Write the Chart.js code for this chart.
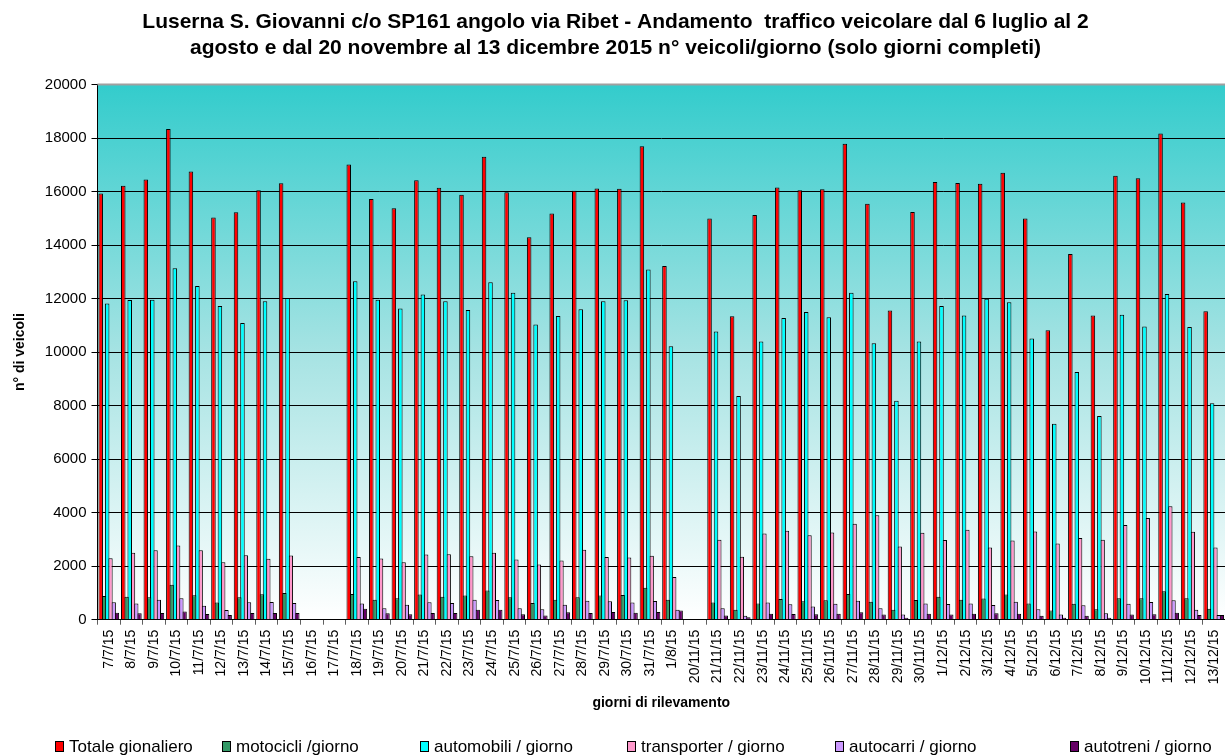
<!DOCTYPE html>
<html>
<head>
<meta charset="utf-8">
<script src="https://cdn.jsdelivr.net/npm/chart.js@4/dist/chart.umd.min.js"></script>
<style>
  html, body { margin: 0; padding: 0; background: #fff; }
  #wrap { width: 1225px; height: 756px; }
</style>
</head>
<body>
<div id="wrap"><canvas id="chart" width="1225" height="756"></canvas></div>
<script>
// giorni di rilevamento (16/7, 17/7 e 20/11 senza dati completi)
const days = [
  "7/7/15", "8/7/15", "9/7/15", "10/7/15", "11/7/15", "12/7/15", "13/7/15", "14/7/15", "15/7/15",
  "16/7/15", "17/7/15", "18/7/15", "19/7/15", "20/7/15", "21/7/15", "22/7/15", "23/7/15", "24/7/15",
  "25/7/15", "26/7/15", "27/7/15", "28/7/15", "29/7/15", "30/7/15", "31/7/15", "1/8/15",
  "20/11/15", "21/11/15", "22/11/15", "23/11/15", "24/11/15", "25/11/15", "26/11/15", "27/11/15",
  "28/11/15", "29/11/15", "30/11/15", "1/12/15", "2/12/15", "3/12/15", "4/12/15", "5/12/15",
  "6/12/15", "7/12/15", "8/12/15", "9/12/15", "10/12/15", "11/12/15", "12/12/15", "13/12/15"
];

const totale = [
  15930, 16220, 16450, 18340, 16750, 15030, 15230, 16050, 16310, null, null, 17010, 15720, 15380,
  16420, 16140, 15880, 17300, 15970, 14290, 15180, 16030, 16110, 16100, 17690, 13220,
  null, 14990, 11340, 15120, 16150, 16050, 16090, 17790, 15540, 11550, 15240,
  16360, 16320, 16290, 16700, 14990, 10820, 13670, 11370, 16590, 16500, 18170, 15590, 11530
];

const motocicli = [
  890, 860, 840, 1310, 910, 640, 840, 950, 1000, null, null, 960, 750, 800,
  940, 860, 900, 1090, 840, 625, 750, 840, 900, 925, 1190, 750,
  null, 640, 375, 610, 775, 690, 725, 960, 675, 375, 740,
  860, 750, 790, 940, 610, 340, 600, 390, 800, 800, 1060, 800, 410
];

const automobili = [
  11820, 11950, 11960, 13130, 12470, 11720, 11090, 11900, 12020, null, null, 12650, 11960, 11630,
  12150, 11900, 11570, 12610, 12220, 11030, 11350, 11600, 11900, 11940, 13090, 10220,
  null, 10770, 8360, 10400, 11270, 11500, 11300, 12220, 10330, 8180, 10400,
  11720, 11370, 11990, 11860, 10510, 7320, 9260, 7610, 11400, 10960, 12170, 10940, 8090
];

const transporter = [
  2300, 2500, 2600, 2775, 2600, 2150, 2410, 2275, 2400, null, null, 2340, 2290, 2150,
  2440, 2450, 2375, 2500, 2250, 2060, 2210, 2610, 2340, 2325, 2390, 1600,
  null, 2990, 2350, 3225, 3325, 3160, 3260, 3590, 3900, 2740, 3250,
  2975, 3360, 2700, 2960, 3300, 2850, 3050, 2990, 3540, 3800, 4240, 3290, 2700
];

const autocarri = [
  650, 610, 750, 800, 525, 360, 650, 660, 625, null, null, 610, 425, 560,
  650, 625, 750, 740, 425, 390, 560, 710, 690, 640, 700, 375,
  null, 425, 150, 640, 575, 490, 600, 710, 425, 190, 610,
  590, 610, 550, 675, 390, 190, 540, 240, 600, 660, 725, 375, 175
];

const autotreni = [
  260, 240, 250, 310, 210, 175, 250, 250, 250, null, null, 410, 240, 200,
  250, 250, 375, 375, 200, 160, 275, 250, 290, 260, 290, 340,
  null, 160, 90, 225, 210, 200, 225, 275, 190, 75, 225,
  190, 225, 240, 225, 150, 75, 150, 75, 190, 200, 260, 175, 180
];

const yTicks = [0, 2000, 4000, 6000, 8000, 10000, 12000, 14000, 16000, 18000, 20000];

const FONT = "Arial, 'Liberation Sans', sans-serif";

// where each legend entry starts (x of the little box) and its row
const LEGEND_X = [55, 222, 420, 627, 835, 1070];
const LEGEND_Y = 746;

// teal-to-white background of the plot area, plus the grey frame on top
const plotBackground = {
  id: "plotBackground",
  beforeDraw(chart) {
    const { ctx, chartArea: a } = chart;
    const g = ctx.createLinearGradient(0, a.top, 0, a.bottom);
    g.addColorStop(0, "#33CCCC");
    g.addColorStop(0.5, "#A6E3E3");
    g.addColorStop(1, "#FFFFFF");
    ctx.save();
    ctx.fillStyle = g;
    ctx.fillRect(a.left, a.top, a.right - a.left, a.bottom - a.top);
    ctx.restore();
  },
  afterDatasetsDraw(chart) {
    const { ctx, chartArea: a } = chart;
    ctx.save();
    ctx.strokeStyle = "#A0A0A0";
    ctx.lineWidth = 2;
    ctx.beginPath();
    ctx.moveTo(a.left, a.top);
    ctx.lineTo(a.right, a.top);
    ctx.stroke();
    ctx.restore();
  }
};

// Excel-like legend row, spread across the bottom of the page
const bottomLegend = {
  id: "bottomLegend",
  afterDraw(chart) {
    const ctx = chart.ctx;
    ctx.save();
    ctx.font = "17px " + FONT;
    ctx.textBaseline = "middle";
    ctx.textAlign = "left";
    chart.data.datasets.forEach((ds, i) => {
      const x = LEGEND_X[i];
      ctx.fillStyle = ds.backgroundColor;
      ctx.fillRect(x, LEGEND_Y - 5, 9, 11);
      ctx.strokeStyle = "#000";
      ctx.lineWidth = 1;
      ctx.strokeRect(x + 0.5, LEGEND_Y - 4.5, 8, 10);
      ctx.fillStyle = "#000";
      ctx.fillText(ds.label, x + 14, LEGEND_Y + 1);
    });
    ctx.restore();
  }
};

// bars slightly wider than their slot, so neighbours overlap a little like in Excel
function makeSet(label, data, color) {
  return {
    label: label,
    data: data,
    backgroundColor: color,
    borderColor: "#000000",
    borderWidth: 1,
    categoryPercentage: 0.86,
    barPercentage: 1.4
  };
}

document.addEventListener("DOMContentLoaded", function () {
  const ctx = document.getElementById("chart").getContext("2d");

  new Chart(ctx, {
    type: "bar",
    data: {
      labels: days,
      datasets: [
        makeSet("Totale gionaliero", totale, "#FF0000"),
        makeSet("motocicli /giorno", motocicli, "#339966"),
        makeSet("automobili / giorno", automobili, "#00FFFF"),
        makeSet("transporter / giorno", transporter, "#FF99CC"),
        makeSet("autocarri / giorno", autocarri, "#CC99FF"),
        makeSet("autotreni / giorno", autotreni, "#660066")
      ]
    },
    options: {
      responsive: false,
      animation: false,
      layout: { padding: { left: 6, right: 0, top: 0, bottom: 40 } },
      plugins: {
        title: {
          display: true,
          text: [
            "Luserna S. Giovanni c/o SP161 angolo via Ribet - Andamento  traffico veicolare dal 6 luglio al 2",
            "agosto e dal 20 novembre al 13 dicembre 2015 n° veicoli/giorno (solo giorni completi)"
          ],
          color: "#000",
          font: { family: FONT, size: 21, weight: "bold", lineHeight: 1.25 },
          padding: { top: 9, bottom: 23 }
        },
        legend: { display: false },
        tooltip: { enabled: false }
      },
      scales: {
        x: {
          // the plot runs right up to the page edge, as in the original
          afterFit(axis) {
            axis.paddingRight = 0;
          },
          grid: {
            offset: true,
            drawOnChartArea: false,
            drawTicks: true,
            tickLength: 5,
            color: "#606060"
          },
          border: { color: "#000000" },
          ticks: {
            autoSkip: false,
            maxRotation: 90,
            minRotation: 90,
            padding: 5,
            color: "#000",
            font: { family: FONT, size: 14 }
          },
          title: {
            display: true,
            text: "giorni di rilevamento",
            color: "#000",
            font: { family: FONT, size: 14, weight: "bold" },
            padding: { top: 6, bottom: 4 }
          }
        },
        y: {
          min: 0,
          max: 20000,
          afterBuildTicks(axis) {
            axis.ticks = yTicks.map(v => ({ value: v }));
          },
          grid: {
            color: "#000000",
            lineWidth: 1,
            tickLength: 6
          },
          border: { color: "#000000" },
          ticks: {
            color: "#000",
            font: { family: FONT, size: 15 },
            padding: 5,
            callback: v => String(v)
          },
          title: {
            display: true,
            text: "n° di veicoli",
            color: "#000",
            font: { family: FONT, size: 14, weight: "bold" },
            padding: { top: 6, bottom: 11 }
          }
        }
      }
    },
    plugins: [plotBackground, bottomLegend]
  });
});
</script>
</body>
</html>
